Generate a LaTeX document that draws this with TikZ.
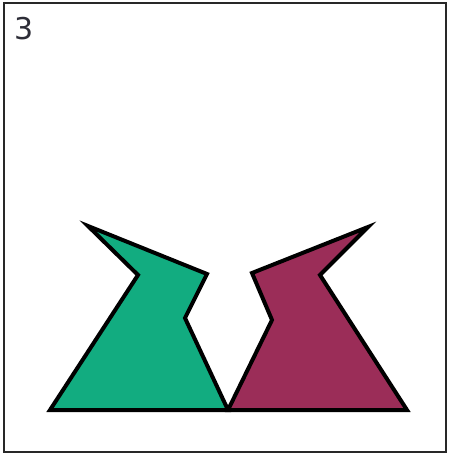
\documentclass[tikz,border=0pt]{standalone}
\usepackage{fontspec}
\setmainfont{DejaVu Sans}
\definecolor{greenfill}{RGB}{18,172,128}
\definecolor{maroonfill}{RGB}{155,45,88}
\definecolor{framegray}{RGB}{40,40,40}
\definecolor{labelgray}{RGB}{45,45,55}
\tikzset{
  shapeout/.style={draw=black, line width=4pt, line join=miter},
  framebox/.style={draw=framegray, line width=2.5pt},
}
\begin{document}
\begin{tikzpicture}[x=1pt,y=-1pt]
\useasboundingbox (0,0) rectangle (451,456);
\fill[white] (0,0) rectangle (451,456);
\draw[framebox] (4,3) rectangle (446,452);
\node[anchor=base west, inner sep=0pt, text=labelgray, font=\fontsize{30}{32}\selectfont] (lbl) at (14,39) {3};
\draw[shapeout, fill=greenfill] (88,226) -- (138,275) -- (50,410) -- (228,410) -- (185,318) -- (207,274) -- cycle;
\draw[shapeout, fill=maroonfill] (368,227) -- (320,275) -- (407,410) -- (228,410) -- (272,320) -- (252,273) -- cycle;
\end{tikzpicture}
\end{document}
